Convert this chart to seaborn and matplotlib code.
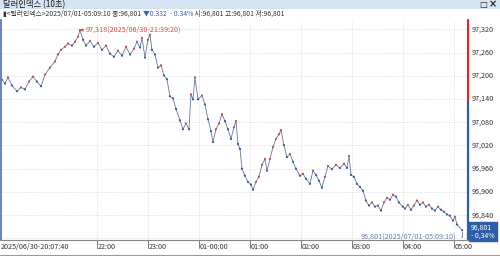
import matplotlib
matplotlib.use("Agg")
import matplotlib.pyplot as plt
import seaborn as sns
import numpy as np
import pandas as pd

sns.set_theme(style="white")
plt.rcParams['font.family'] = ['Noto Sans CJK KR', 'DejaVu Sans']

# minutes after 2025/06/30 20:00
minutes = [7.7, 11.2, 14.7, 19.4, 25.3, 30.0, 34.7, 39.4, 44.1, 48.8, 53.6, 58.3, 64.1, 70.0, 73.5,
           77.1, 81.8, 85.3, 90.0, 93.5, 97.1, 99.3, 103.0, 106.5, 111.2, 115.9, 120.6, 125.3, 130.0,
           134.7, 139.4, 144.1, 148.9, 153.6, 158.3, 163.0, 166.5, 170.0, 172.4, 175.9, 179.4, 181.8,
           184.1, 187.7, 191.2, 194.7, 198.3, 201.8, 205.3, 208.9, 212.4, 217.1, 220.6, 224.1, 227.7,
           230.0, 232.4, 234.7, 238.3, 243.0, 246.5, 250.0, 253.6, 255.9, 259.4, 263.0, 266.5, 270.0,
           273.6, 277.1, 280.6, 283.0, 285.3, 287.7, 290.0, 293.5, 297.1, 300.6, 303.0, 306.5, 310.0,
           313.6, 317.1, 319.5, 323.0, 326.5, 330.0, 333.6, 335.9, 339.4, 343.0, 346.5, 350.0, 353.6,
           358.3, 361.8, 365.3, 370.0, 373.6, 377.1, 380.6, 384.1, 387.7, 391.2, 395.9, 400.6, 405.3,
           410.0, 413.6, 416.0, 418.3, 421.8, 425.3, 428.9, 432.4, 435.9, 439.5, 443.0, 446.5, 450.0,
           453.6, 457.1, 460.6, 464.1, 467.7, 471.2, 474.7, 479.4, 481.8, 485.3, 488.9, 492.4, 495.9,
           499.4, 503.0, 506.5, 510.0, 513.6, 517.1, 520.6, 524.1, 527.7, 531.2, 534.7, 538.3, 540.6,
           543.0, 549.2]
prices = [97.190, 97.180, 97.196, 97.175, 97.160, 97.170, 97.165, 97.185, 97.198, 97.185, 97.173,
          97.203, 97.221, 97.237, 97.255, 97.267, 97.275, 97.283, 97.278, 97.288, 97.301, 97.318,
          97.293, 97.278, 97.290, 97.275, 97.285, 97.267, 97.278, 97.257, 97.249, 97.265, 97.252,
          97.275, 97.255, 97.270, 97.288, 97.273, 97.298, 97.247, 97.293, 97.306, 97.267, 97.255,
          97.221, 97.227, 97.201, 97.191, 97.147, 97.142, 97.114, 97.085, 97.062, 97.077, 97.062,
          97.152, 97.139, 97.196, 97.139, 97.149, 97.126, 97.088, 97.057, 97.029, 97.062, 97.077,
          97.101, 97.083, 97.062, 97.037, 97.067, 97.083, 97.024, 97.011, 96.960, 96.942, 96.926,
          96.919, 96.906, 96.926, 96.939, 96.970, 96.985, 96.955, 96.985, 97.016, 97.037, 97.049,
          97.060, 97.021, 96.990, 96.998, 96.978, 96.960, 96.942, 96.947, 96.934, 96.921, 96.955,
          96.944, 96.929, 96.911, 96.939, 96.967, 96.959, 96.970, 96.962, 96.973, 96.962, 96.993,
          96.944, 96.939, 96.921, 96.913, 96.903, 96.878, 96.865, 96.873, 96.862, 96.865, 96.852,
          96.873, 96.885, 96.880, 96.893, 96.888, 96.873, 96.862, 96.857, 96.867, 96.854, 96.865,
          96.878, 96.867, 96.873, 96.862, 96.867, 96.857, 96.852, 96.862, 96.854, 96.849, 96.842,
          96.839, 96.826, 96.836, 96.816, 96.801]

ytick_vals = [96.780, 96.840, 96.900, 96.960, 97.020, 97.080, 97.140, 97.200, 97.260, 97.320]
ytick_labels = ["96,780", "96,840", "96,900", "96,960", "97,020", "97,080", "97,140", "97,200", "97,260", "97,320"]
xtick_vals = [7.67, 120, 180, 240, 300, 360, 420, 480, 540]
xtick_labels = ["2025/06/30-20:07:40", "22:00", "23:00", "01-00:00", "01:00", "02:00", "03:00", "04:00", "05:00"]

prev_close = 97.133
last_price = 96.801
high_price = 97.318
high_min = 99.3

title = "달러인덱스 (10초)"
info_parts = [("▮<달러인덱스>2025/07/01-05:09:10 종:96,801 ", "#333333"),
              ("▼0.332  - 0.34%", "#3a5fb0"),
              (" 시:96,801 고:96,801 저:96,801", "#333333")]

df = pd.DataFrame({"minute": minutes, "price": prices})
df["dir"] = np.where(df["price"].diff().fillna(0) >= 0, "up", "down")

W, H = 500, 256
fig = plt.figure(figsize=(W / 100, H / 100), dpi=100)
fig.patch.set_facecolor("white")

# title bar
bar = fig.add_axes([0, 1 - 9 / H, 1, 9 / H])
bar.set_facecolor("#d6e5f4")
bar.set_xticks([]); bar.set_yticks([])
for s in bar.spines.values():
    s.set_visible(False)
bar.axhline(0, color="#9fb7d3", lw=0.8)
bar.text(3 / W, 0.5, title, transform=bar.transAxes, fontsize=6, va="center", ha="left", color="#1a1a1a")
bar.text(0.966, 0.5, "□", transform=bar.transAxes, fontsize=6, va="center", ha="center", color="#222222",
         family=["DejaVu Sans"], weight="bold")
bar.text(0.986, 0.5, "×", transform=bar.transAxes, fontsize=7, va="center", ha="center", color="#222222",
         family=["DejaVu Sans"], weight="bold")

ax = fig.add_axes([1 / W, 1 - 240 / H, 467 / W, 220 / H])
ax.set_facecolor("white")

sns.lineplot(data=df, x="minute", y="price", ax=ax, color="#66769a", lw=0.6, legend=False)
sns.scatterplot(data=df, x="minute", y="price", hue="dir", palette={"up": "#c0504d", "down": "#3b5a9a"},
                s=2.5, linewidth=0, ax=ax, legend=False, zorder=3)

ax.set_xlim(6.5, 556)
ax.set_ylim(96.776, 97.344)
ax.set_xlabel(""); ax.set_ylabel("")

for yv in ytick_vals:
    ax.axhline(yv, color="#d0d0d0", lw=0.6, ls=(0, (1, 2)), zorder=0)
for xv in xtick_vals[1:]:
    ax.axvline(xv, color="#d0d0d0", lw=0.6, ls=(0, (1, 2)), zorder=0)

ax.set_xticks([]); ax.set_yticks([])
ax.spines["top"].set_visible(False)
ax.spines["left"].set_color("#4a6fb5"); ax.spines["left"].set_linewidth(1.2)
ax.spines["bottom"].set_color("#888888"); ax.spines["bottom"].set_linewidth(0.8)
ax.spines["right"].set_visible(False)

# right axis colored by previous close
ax.plot([1, 1], [prev_close, 97.344], transform=ax.get_yaxis_transform(), color="#d03030", lw=1.6, clip_on=False)
ax.plot([1, 1], [96.776, prev_close], transform=ax.get_yaxis_transform(), color="#2f5ea8", lw=1.6, clip_on=False)

for yv, lab in zip(ytick_vals, ytick_labels):
    ax.text(1.008, yv, lab, transform=ax.get_yaxis_transform(), fontsize=5.2, va="center", ha="left",
            color="#333333", clip_on=False)

# current price box
ax.text(1.006, last_price - 0.003, "96,801\n- 0,34%", transform=ax.get_yaxis_transform(),
        fontsize=5.0, color="white", ha="left", va="center", linespacing=0.95, clip_on=False, zorder=5,
        bbox=dict(boxstyle="square,pad=0.3", fc="#2f5ea8", ec="#2f5ea8"))

# x tick labels
for i, (xv, lab) in enumerate(zip(xtick_vals, xtick_labels)):
    ax.text(xv if i else 6.5, -0.012, lab, transform=ax.get_xaxis_transform(), fontsize=5.2,
            va="top", ha="left", color="#333333", clip_on=False)
    if i:
        ax.plot([xv, xv], [-0.035, 0], transform=ax.get_xaxis_transform(), color="#666666", lw=0.6,
                clip_on=False)

# high annotation
ax.annotate("97,318(2025/06/30-21:39:20)", xy=(high_min, high_price), xytext=(high_min + 7, high_price),
            fontsize=5.2, color="#c0504d", va="center", ha="left",
            arrowprops=dict(arrowstyle="-|>", color="#c0504d", lw=0.6, mutation_scale=4,
                            shrinkA=0, shrinkB=0))
# last annotation
ax.annotate("96,801(2025/07/01-05:09:10)", xy=(minutes[-1], last_price), xytext=(minutes[-1] - 7, 96.785),
            fontsize=5.2, color="#6a7fa8", va="center", ha="right",
            arrowprops=dict(arrowstyle="-", color="#6a7fa8", lw=0.6, connectionstyle="angle,angleA=0,angleB=90,rad=0",
                            shrinkA=1, shrinkB=1))

# info line
x0 = 3
for txt, col in info_parts:
    t = fig.text(x0 / W, 1 - 14 / H, txt, fontsize=4.9, color=col, va="center", ha="left")
    fig.canvas.draw()
    bb = t.get_window_extent()
    x0 = bb.x1

# bottom border
fig.add_artist(plt.Line2D([0, 1], [1 / H, 1 / H], color="#9a9a9a", lw=0.8))

fig.savefig("out.png", dpi=100)
